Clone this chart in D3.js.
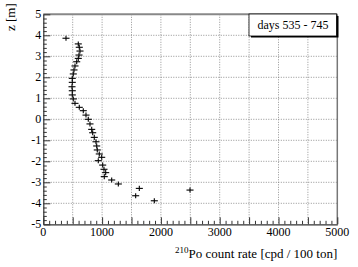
<!DOCTYPE html>
<html>
<head>
<meta charset="utf-8">
<script src="https://cdn.jsdelivr.net/npm/d3@7"></script>
<style>
  body { margin: 0; background: #fff; }
  svg text { font-family: "Liberation Serif", "Times New Roman", Times, "DejaVu Serif", serif; fill: #000; }
</style>
</head>
<body>
<div id="chart"></div>
<script>
// count rate (cpd / 100 ton) vs z (m)
const rate = [386, 595, 612, 624, 607, 595, 568, 539, 522, 510, 493, 493, 488, 493, 493, 510, 539, 612,
              680, 726, 765, 794, 823, 840, 867, 896, 908, 918, 952, 993, 935, 1010, 1032, 1061, 1037,
              1163, 1276, 1633, 1571, 1888, 2495];
const zPos = [3.86, 3.59, 3.43, 3.25, 3.06, 2.90, 2.74, 2.54, 2.35, 2.16, 1.95, 1.76, 1.55, 1.36, 1.16, 0.97, 0.76, 0.57,
              0.41, 0.20, 0.0, -0.22, -0.48, -0.64, -0.86, -1.07, -1.27, -1.46, -1.65, -1.81, -1.97, -2.18, -2.38, -2.54, -2.73,
              -2.89, -3.08, -3.29, -3.64, -3.88, -3.37];
const rateErr = 60;   // horizontal error bar half width
const zErr = 0.12;    // vertical half bin
const xLabels = [0, 1000, 2000, 3000, 4000, 5000];
const yLabels = [-5, -4, -3, -2, -1, 0, 1, 2, 3, 4, 5];
const legendText = "days 535 - 745";

const W = 358, H = 267;
const padL = 43.3, padR = 337.3, padT = 14.3, padB = 224.3;

const svg = d3.select("#chart").append("svg")
    .attr("width", W).attr("height", H)
    .attr("font-family", "Liberation Serif, Times New Roman, serif");

const x = d3.scaleLinear().domain([0, 5000]).range([padL, padR]);
const y = d3.scaleLinear().domain([-5, 5]).range([padB, padT]);

// grid
svg.append("g").selectAll("line")
    .data(d3.range(500, 5000, 500))
    .enter().append("line")
    .attr("x1", d => x(d)).attr("x2", d => x(d))
    .attr("y1", padT).attr("y2", padB)
    .attr("stroke", "#777").attr("stroke-width", 0.8).attr("stroke-dasharray", "1,1.5");
svg.append("g").selectAll("line")
    .data(d3.range(-4, 5, 1))
    .enter().append("line")
    .attr("x1", padL).attr("x2", padR)
    .attr("y1", d => y(d)).attr("y2", d => y(d))
    .attr("stroke", "#777").attr("stroke-width", 0.8).attr("stroke-dasharray", "1,1.5");

// frame top/right
svg.append("line").attr("x1", padL).attr("x2", padR).attr("y1", padT).attr("y2", padT)
    .attr("stroke", "#888").attr("stroke-width", 2);
svg.append("line").attr("x1", padR).attr("x2", padR).attr("y1", padT).attr("y2", padB)
    .attr("stroke", "#777").attr("stroke-width", 1.5);

// x axis, ticks inside
const xAxis = d3.axisTop(x).tickValues(d3.range(0, 5001, 100))
    .tickSize(0).tickFormat("");
const gx = svg.append("g").attr("transform", `translate(0,${padB})`).call(xAxis);
gx.select(".domain").attr("stroke", "#333").attr("stroke-width", 1.2);
gx.selectAll(".tick line")
    .attr("y2", d => d % 500 === 0 ? -7 : -3.5)
    .attr("stroke", "#333");
svg.append("g").selectAll("text")
    .data(xLabels)
    .enter().append("text")
    .attr("x", d => x(d)).attr("y", padB + 12)
    .attr("text-anchor", "middle")
    .style("font-size", "12px")
    .text(d => d);

// y axis, ticks inside
const yAxis = d3.axisRight(y).tickValues(d3.range(-5, 5.01, 0.2).map(v => Math.round(v * 10) / 10))
    .tickSize(0).tickFormat("");
const gy = svg.append("g").attr("transform", `translate(${padL},0)`).call(yAxis);
gy.select(".domain").attr("stroke", "#333").attr("stroke-width", 1.2);
gy.selectAll(".tick line")
    .attr("x2", d => Number.isInteger(d) ? 7 : 3.5)
    .attr("stroke", "#333");
svg.append("g").selectAll("text")
    .data(yLabels)
    .enter().append("text")
    .attr("x", padL - 2).attr("y", d => y(d) + 4)
    .attr("text-anchor", "end")
    .style("font-size", "12px")
    .text(d => d);

// axis titles
svg.append("text")
    .attr("transform", "translate(15,31) rotate(-90)")
    .attr("text-anchor", "start")
    .style("font-size", "13px")
    .text("z [m]");
const xt = svg.append("text")
    .attr("x", padR).attr("y", 258)
    .attr("text-anchor", "end")
    .style("font-size", "13px");
xt.append("tspan").attr("dy", -5).style("font-size", "9px").text("210");
xt.append("tspan").attr("dy", 5).text("Po count rate [cpd / 100 ton]");

// data points as error crosses
const pts = rate.map((r, i) => ({r: r, z: zPos[i]}));
const g = svg.append("g");
g.selectAll(".h").data(pts).enter().append("line")
    .attr("x1", d => x(d.r - rateErr)).attr("x2", d => x(d.r + rateErr))
    .attr("y1", d => y(d.z)).attr("y2", d => y(d.z))
    .attr("stroke", "#000").attr("stroke-width", 1.1);
g.selectAll(".v").data(pts).enter().append("line")
    .attr("x1", d => x(d.r)).attr("x2", d => x(d.r))
    .attr("y1", d => y(d.z - zErr)).attr("y2", d => y(d.z + zErr))
    .attr("stroke", "#000").attr("stroke-width", 1.1);

// legend box with shadow
svg.append("rect").attr("x", 251).attr("y", 16).attr("width", 87.5).attr("height", 21.5).attr("fill", "#000");
svg.append("rect").attr("x", 249).attr("y", 14).attr("width", 87.5).attr("height", 22)
    .attr("fill", "#fff").attr("stroke", "#000").attr("stroke-width", 0.8);
svg.append("text")
    .attr("x", 293).attr("y", 29)
    .attr("text-anchor", "middle")
    .style("font-size", "12px")
    .text(legendText);
</script>
</body>
</html>
